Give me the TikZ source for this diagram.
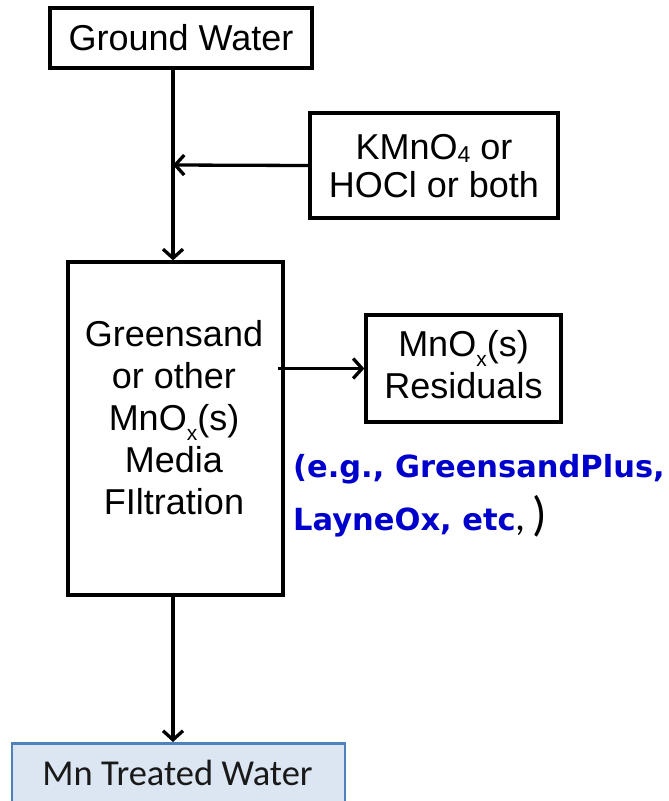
\documentclass[tikz,border=0pt]{standalone}
\usepackage{fontspec}
\setmainfont{Liberation Sans}
\newfontfamily\bluefont{DejaVu Sans}
\newfontfamily\carlito{Carlito}
\usetikzlibrary{arrows.meta}
\definecolor{egblue}{RGB}{0,0,204}
\definecolor{mnfill}{RGB}{220,230,242}
\definecolor{mnedge}{RGB}{79,129,189}
\newcommand{\subfour}{\raisebox{-3pt}{\fontsize{23}{23}\selectfont 4}}
\newcommand{\subx}{\raisebox{-10pt}{\fontsize{21}{21}\selectfont x}}
\begin{document}
\begin{tikzpicture}[x=1pt,y=-1pt,
  box/.style={draw=black, line width=3.3pt, inner sep=0pt, align=center,
    font=\fontsize{36}{36}\selectfont},
  txt/.style={inner sep=0pt, align=center},
  flow/.style={line width=3.3pt, -{Straight Barb[length=9pt,width=20pt]}},
  egtext/.style={anchor=base west, inner sep=0pt, text=egblue,
    font=\bluefont\bfseries\fontsize{30.5}{40}\selectfont}]
\useasboundingbox (0,0) rectangle (669,801);
\clip (0,0) rectangle (669,801);
% boxes
\node[box, minimum width=262pt, minimum height=60pt] (gw) at (181,38) {Ground Water};
\node[box, minimum width=248pt, minimum height=105pt] (kmn) at (434,165.5) {};
\node[txt, font=\fontsize{36}{38}\selectfont] (kmntext) at (434,166)
  {KMnO\subfour{} or\\HOCl or both};
\node[box, minimum width=215pt, minimum height=333pt] (main) at (175.5,428.5) {};
\node[txt, font=\fontsize{36}{42}\selectfont] (maintext) at (174,418)
  {Greensand\\or other\\MnO\subx(s)\\Media\\FIltration};
\node[box, minimum width=195pt, minimum height=107pt] (res) at (463.5,368.5) {};
\node[txt, font=\fontsize{36}{42}\selectfont] (restext) at (463.5,364.5)
  {MnO\subx(s)\\Residuals};
\node[draw=mnedge, fill=mnfill, line width=2.5pt, minimum width=333pt,
  minimum height=70pt, anchor=north, inner sep=0pt] (mn) at (178.5,742) {};
\node[anchor=base, inner sep=0pt, text=black!90,
  font=\carlito\fontsize{36.5}{40}\selectfont] (mntext) at (177.5,785) {Mn Treated Water};
% example text
\node[egtext] (eg1) at (293,477) {(e.g., GreensandPlus,};
\node[egtext] (eg2) at (293,530)
  {LayneOx, etc{\color{black}\carlito\mdseries\fontsize{40}{40}\selectfont,\,\fontsize{48}{48}\selectfont)}};
% connectors
\coordinate (j) at (173,165);
\draw[line width=3.3pt] (gw.south -| j) -- (j);
\draw[flow] (j) -- (main.north -| j);
\draw[flow] (kmn.west) -- (j);
\draw[flow] ([xshift=-7pt]main.east |- res.west) -- (res.west);
\draw[flow] (main.south -| j) -- (mn.north -| j);
\end{tikzpicture}
\end{document}
